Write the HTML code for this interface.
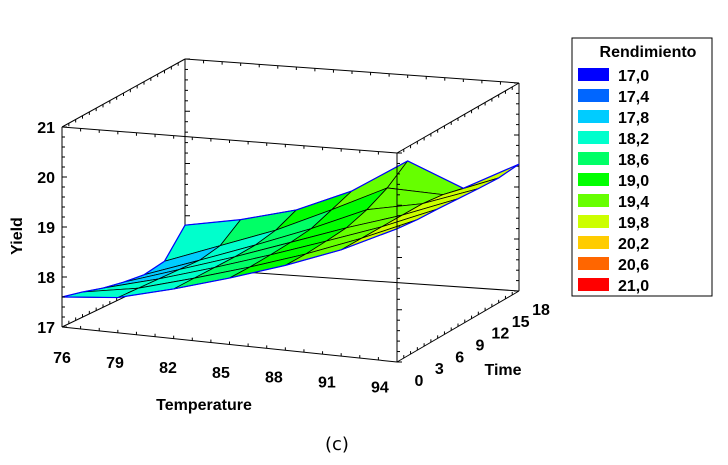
<!DOCTYPE html>
<html><head><meta charset="utf-8"><style>
html,body{margin:0;padding:0;background:#fff;width:728px;height:465px;overflow:hidden}
svg{display:block;font-family:"Liberation Sans",Arial,sans-serif}
.lab{font-weight:bold;font-size:16px;fill:#000}
</style></head><body>
<svg id="chart" width="728" height="465" viewBox="0 0 728 465">
<g id="back"></g>
<g id="surf"></g>
<g id="front"></g>
<g id="labels"></g>
<g id="legend"></g>
<text x="337" y="450" text-anchor="middle" font-family="DejaVu Sans, sans-serif" font-size="18">(c)</text>
</svg>
<script>
const temps=[76,79,82,85,88,91,94];
const times=[0,3,6,9,12,15,18];
const zT0=[17.6,17.7,17.98,18.3,18.65,19.05,19.55];
const zT3=[17.5,17.68,17.98,18.3,18.65,19.05,19.5];
const zT6=[17.38,17.66,17.98,18.32,18.68,19.05,19.48];
const zT9=[17.3,17.64,17.98,18.35,18.72,19.05,19.45];
const zT12=[17.25,17.62,18.0,18.4,18.85,19.05,19.42];
const zT15=[17.32,17.7,18.08,18.55,19.05,19.0,19.4];
const zT18=[17.82,18.0,18.26,18.7,19.35,18.9,19.44];
const zRows=[zT0,zT3,zT6,zT9,zT12,zT15,zT18];
const yTicks=[17,18,19,20,21];
const levels=[17.0,17.4,17.8,18.2,18.6,19.0,19.4,19.8,20.2,20.6,21.0];
const levelColors=["#0000ff","#0066ff","#00ccff","#00ffcc","#00ff66","#00ff00","#66ff00","#ccff00","#ffcc00","#ff6600","#ff0000"];
const levelLabels=["17,0","17,4","17,8","18,2","18,6","19,0","19,4","19,8","20,2","20,6","21,0"];
const NS="http://www.w3.org/2000/svg";
const C={"000":[62,327],"001":[62,127],"100":[397,362],"101":[397,153],"010":[185,268],"011":[185,59],"110":[519,291],"111":[519,83]};
function L(a,b,t){return [a[0]+(b[0]-a[0])*t,a[1]+(b[1]-a[1])*t];}
function P(u,v,w){
 const a=L(C["000"],C["100"],u),b=L(C["010"],C["110"],u),c=L(C["001"],C["101"],u),d=L(C["011"],C["111"],u);
 return L(L(a,b,v),L(c,d,v),w);}
const xs=t=>(t-76)/18, ys=s=>s/18, zs=z=>(z-17)/4;
function proj(t,s,z){return P(xs(t),ys(s),zs(z));}
function mk(tag,attrs,parent){const e=document.createElementNS(NS,tag);for(const k in attrs)e.setAttribute(k,attrs[k]);parent.appendChild(e);return e;}
function line(p,q,parent,w){return mk('line',{x1:p[0],y1:p[1],x2:q[0],y2:q[1],stroke:'#000','stroke-width':w||1},parent);}
const back=document.getElementById('back'),front=document.getElementById('front'),surf=document.getElementById('surf'),labels=document.getElementById('labels'),legend=document.getElementById('legend');
[["000","010"],["010","110"],["010","011"],["011","111"],["110","111"],["001","011"],["100","110"],["101","111"]].forEach(e=>{const l=line(C[e[0]],C[e[1]],back);

});
for(let z=17;z<=21.001;z+=0.2){const p=P(0,1,zs(z)),q=P(1,1,zs(z)),r=P(1,0,zs(z)),o=P(0,0,zs(z));
 const big=Math.abs(z-Math.round(z))<0.01?5:3;
 line(p,[p[0]+big,p[1]],back);line(q,[q[0]-big,q[1]],back);line(o,[o[0]+big,o[1]],front);line(r,[r[0]+big,r[1]],front);}
for(let t=76;t<=94.01;t+=1){const p=P(xs(t),0,0),q=P(xs(t),1,1);line(p,[p[0],p[1]-3],back);line(q,[q[0],q[1]+3],back);const r=P(xs(t),0,1);line(r,[r[0],r[1]+3],back);}
for(let s=0;s<=18.01;s+=1){const p=P(0,ys(s),0),q=P(1,ys(s),0),r=P(0,ys(s),1),u=P(1,ys(s),1);line(p,[p[0],p[1]-3],back);line(q,[q[0],q[1]-3],back);line(r,[r[0],r[1]+3],back);line(u,[u[0],u[1]+3],back);}
const colorBias=0.45;
function colorFor(z){let i=Math.round((z+colorBias-17)/0.4);i=Math.max(0,Math.min(levels.length-1,i));return levelColors[i];}
for(let j=times.length-2;j>=0;j--){for(let i=0;i<temps.length-1;i++){
 const pts=[proj(temps[i],times[j],zRows[j][i]),proj(temps[i+1],times[j],zRows[j][i+1]),proj(temps[i+1],times[j+1],zRows[j+1][i+1]),proj(temps[i],times[j+1],zRows[j+1][i])];
 const avg=(zRows[j][i]+zRows[j][i+1]+zRows[j+1][i]+zRows[j+1][i+1])/4;
 const poly=mk('polygon',{points:pts.map(p=>p.join(',')).join(' '),fill:colorFor(avg),stroke:'#000','stroke-width':0.8,'stroke-linejoin':'round'},surf);
 
 }}
const outline=[];temps.forEach((t,i)=>outline.push(proj(t,0,zRows[0][i])));times.forEach((s,j)=>outline.push(proj(94,s,zRows[j][6])));
for(let i=6;i>=0;i--)outline.push(proj(temps[i],18,zRows[6][i]));for(let j=6;j>=0;j--)outline.push(proj(76,times[j],zRows[j][0]));
const ol=mk('polygon',{points:outline.map(p=>p.join(',')).join(' '),fill:'none',stroke:'#0000ff','stroke-width':1.2},surf);


[["000","100"],["000","001"],["100","101"],["001","101"]].forEach(e=>{const l=line(C[e[0]],C[e[1]],front);

});
function txt(x,y,s,anchor,extra){const e=mk('text',Object.assign({x:x,y:y,'text-anchor':anchor||'middle',class:'lab'},extra||{}),labels);e.textContent=s;return e;}
yTicks.forEach(v=>{const p=P(0,0,zs(v));const e=txt(p[0]-7,p[1]+6,String(v),'end');

});
temps.forEach(t=>{const p=P(xs(t),0,0);const e=txt(p[0]-(t-76)*0.95,p[1]+36-(t-76)*0.3,String(t),'middle');

});
times.forEach(s=>{const p=P(1,ys(s),0);const e=txt(p[0]+22,p[1]+24,String(s),'middle');

});
let e=txt(204,410,'Temperature','middle');


e=txt(503,375,'Time','middle');


e=txt(0,0,'Yield','middle',{transform:'translate(22,236) rotate(-90)'});


const lb=mk('rect',{x:572,y:38,width:140,height:258,fill:'#fff',stroke:'#000','stroke-width':1},legend);


const lt=mk('text',{x:648,y:57,'text-anchor':'middle',class:'lab','font-size':'16'},legend);lt.textContent='Rendimiento';


levels.forEach((v,i)=>{const y=68+i*21;
 const r=mk('rect',{x:578,y:y,width:31,height:13,fill:levelColors[i]},legend);
 
 
 const t=mk('text',{x:618,y:y+13,class:'lab','font-size':'17'},legend);t.textContent=levelLabels[i];
 
 });
</script>
</body></html>
